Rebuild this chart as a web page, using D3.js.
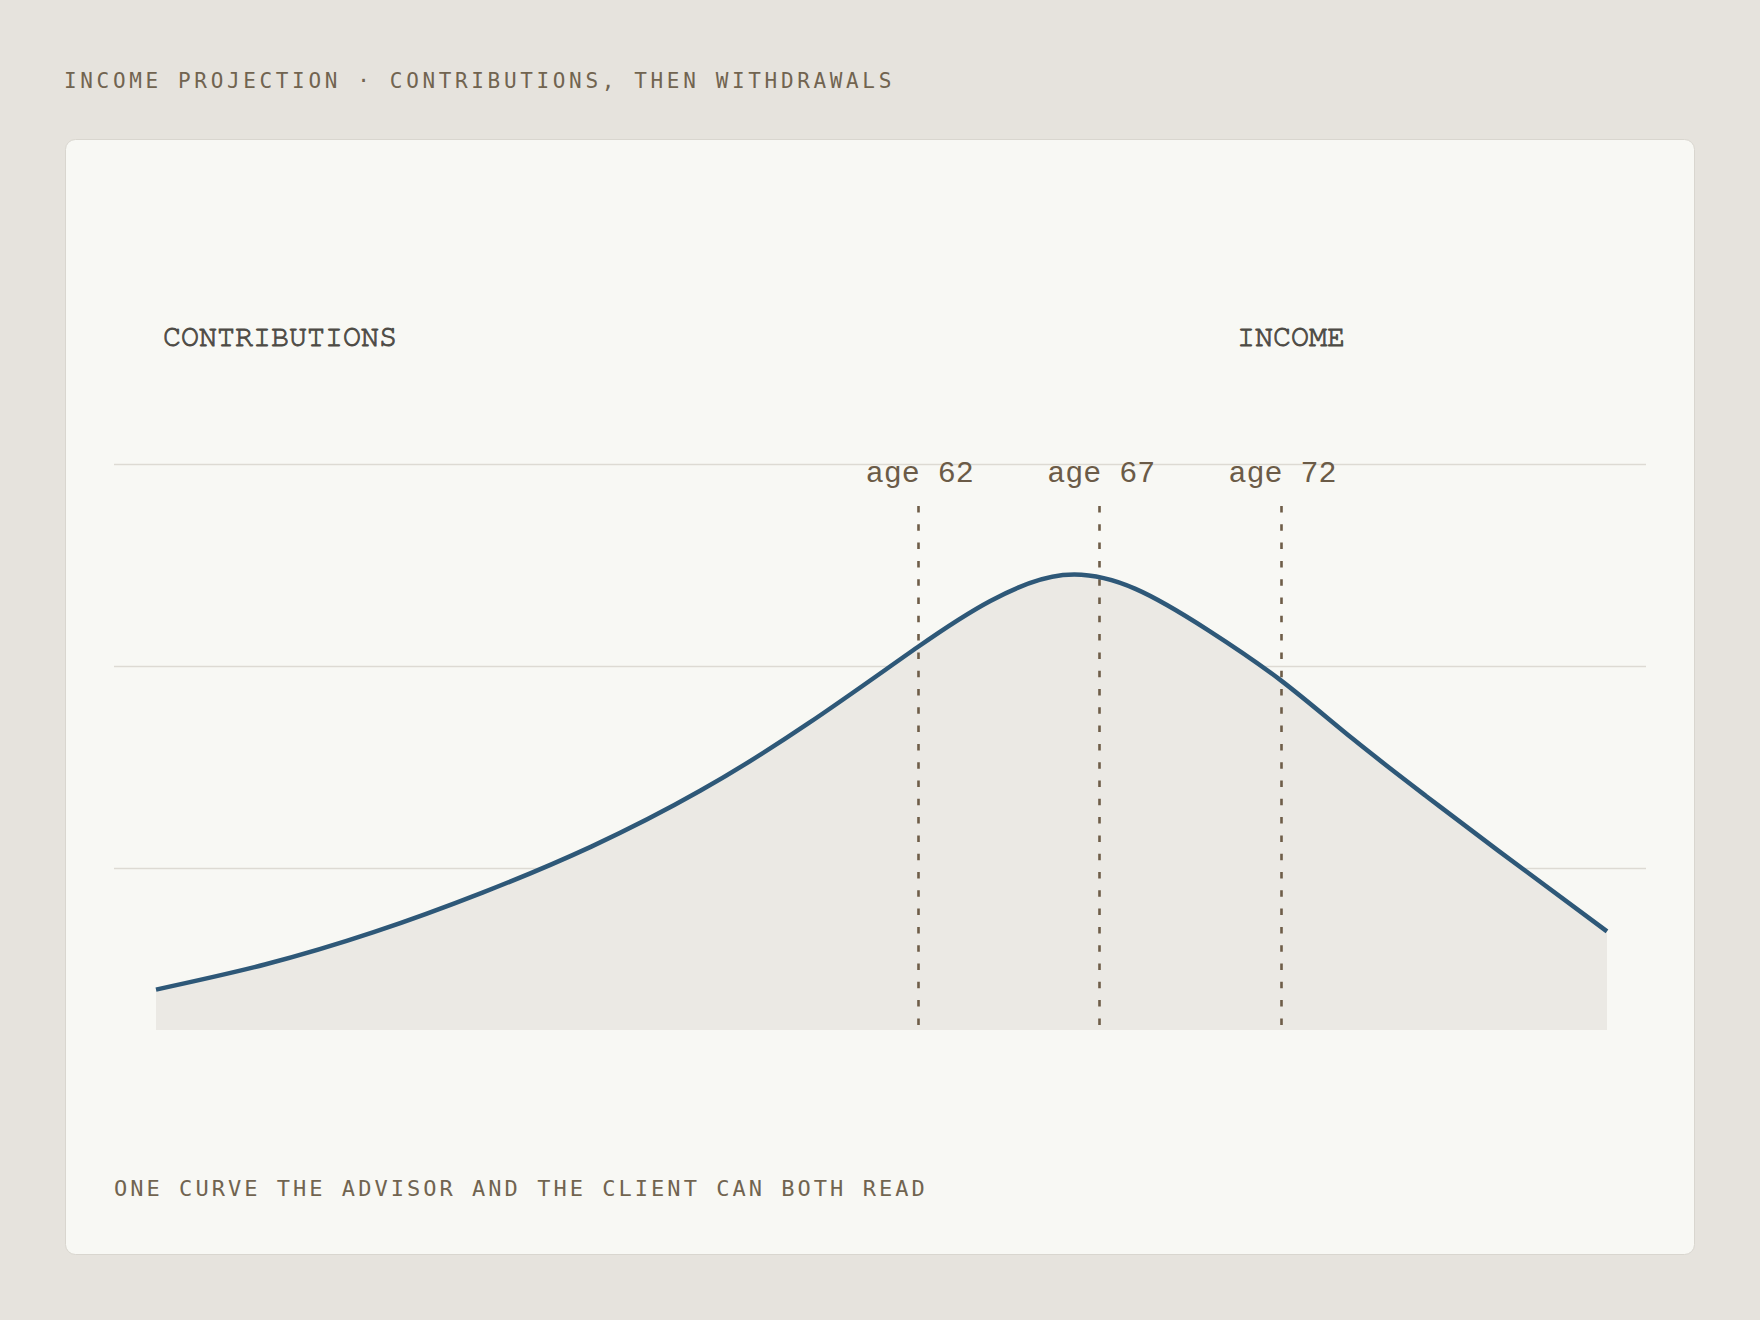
<!DOCTYPE html>
<html>
<head>
<meta charset="utf-8">
<script src="https://cdn.jsdelivr.net/npm/d3@7"></script>
<style>
  body { margin: 0; background: #e6e3dd; }
  svg { display: block; }
</style>
</head>
<body>
<svg id="chart"></svg>
<script>
// ages along the projection where the curve was read
var ages = [41, 44, 47, 50, 53, 56, 59, 62, 64, 66, 68, 70, 72, 74, 76, 78, 81];

// projected balance (index units)
var balance = [5.0, 8.1, 12.1, 17.0, 22.7, 29.6, 38.0, 47.4, 53.1, 56.3,
               54.6, 49.5, 43.3, 36.0, 29.0, 22.2, 12.2];

var gridValues = [20, 45, 70];
var markerAges = [62, 67, 72];
var markerLabels = ["age 62", "age 67", "age 72"];
var phaseLabels = ["CONTRIBUTIONS", "INCOME"];

var title = "INCOME PROJECTION \u00b7 CONTRIBUTIONS, THEN WITHDRAWALS";
var footer = "ONE CURVE THE ADVISOR AND THE CLIENT CAN BOTH READ";

var width = 1760, height = 1320;
var monoSans = "'DejaVu Sans Mono', monospace";
var monoLabel = "'Liberation Mono', 'Courier New', monospace";
var monoSerif = "'Nimbus Mono PS', 'Nimbus Mono L', 'FreeMono', Courier, 'Liberation Mono', monospace";

var svg = d3.select("#chart")
  .attr("width", width)
  .attr("height", height);

svg.append("rect")
  .attr("width", width)
  .attr("height", height)
  .attr("fill", "#e6e3dd");

svg.append("text")
  .attr("x", 64)
  .attr("y", 88)
  .attr("font-family", monoSans)
  .attr("font-size", 21)
  .attr("letter-spacing", 3.65)
  .attr("fill", "#716450")
  .text(title);

// card
svg.append("rect")
  .attr("x", 65.5)
  .attr("y", 139.5)
  .attr("width", 1629)
  .attr("height", 1115)
  .attr("rx", 10)
  .attr("fill", "#f8f8f4")
  .attr("stroke", "#d9d6cf")
  .attr("stroke-width", 1);

var x = d3.scaleLinear()
  .domain([41, 81])
  .range([156, 1607]);

var y = d3.scaleLinear()
  .domain([0, 100])
  .range([1030, 222]);

// gridlines
svg.append("g")
  .selectAll("line")
  .data(gridValues)
  .enter().append("line")
  .attr("x1", 114)
  .attr("x2", 1646)
  .attr("y1", function(d) { return y(d); })
  .attr("y2", function(d) { return y(d); })
  .attr("stroke", "#dddad3")
  .attr("stroke-width", 1.5);

var pts = ages.map(function(a, i) { return { age: a, v: balance[i] }; });

var area = d3.area()
  .x(function(d) { return x(d.age); })
  .y0(y(0))
  .y1(function(d) { return y(d.v); })
  .curve(d3.curveNatural);

var line = d3.line()
  .x(function(d) { return x(d.age); })
  .y(function(d) { return y(d.v); })
  .curve(d3.curveNatural);

svg.append("path")
  .datum(pts)
  .attr("d", area)
  .attr("fill", "#ebe9e4");

// age markers
var markers = svg.append("g")
  .selectAll("g")
  .data(markerAges)
  .enter().append("g");

markers.append("line")
  .attr("x1", function(d) { return Math.round(x(d)) + 0.5; })
  .attr("x2", function(d) { return Math.round(x(d)) + 0.5; })
  .attr("y1", 506)
  .attr("y2", 1025)
  .attr("stroke", "#6e5d48")
  .attr("stroke-width", 2.6)
  .attr("stroke-dasharray", "6.5 11.8");

markers.append("text")
  .attr("x", function(d) { return x(d) + 2; })
  .attr("y", 482)
  .attr("text-anchor", "middle")
  .attr("font-family", monoLabel)
  .attr("font-size", 30)
  .attr("fill", "#6b5b47")
  .text(function(d, i) { return markerLabels[i]; });

svg.append("path")
  .datum(pts)
  .attr("d", line)
  .attr("fill", "none")
  .attr("stroke", "#2e5878")
  .attr("stroke-width", 4.5);

// phase labels
var phaseX = [163, 1237];
svg.append("g")
  .selectAll("text")
  .data(phaseLabels)
  .enter().append("text")
  .attr("x", function(d, i) { return phaseX[i]; })
  .attr("y", 346)
  .attr("font-family", monoSerif)
  .attr("font-size", 30)
  .attr("fill", "#4e4b45")
  .attr("stroke", "#4e4b45")
  .attr("stroke-width", 0.9)
  .text(function(d) { return d; });

svg.append("text")
  .attr("x", 114)
  .attr("y", 1196)
  .attr("font-family", monoSans)
  .attr("font-size", 22)
  .attr("letter-spacing", 3.03)
  .attr("fill", "#716450")
  .text(footer);
</script>
</body>
</html>
